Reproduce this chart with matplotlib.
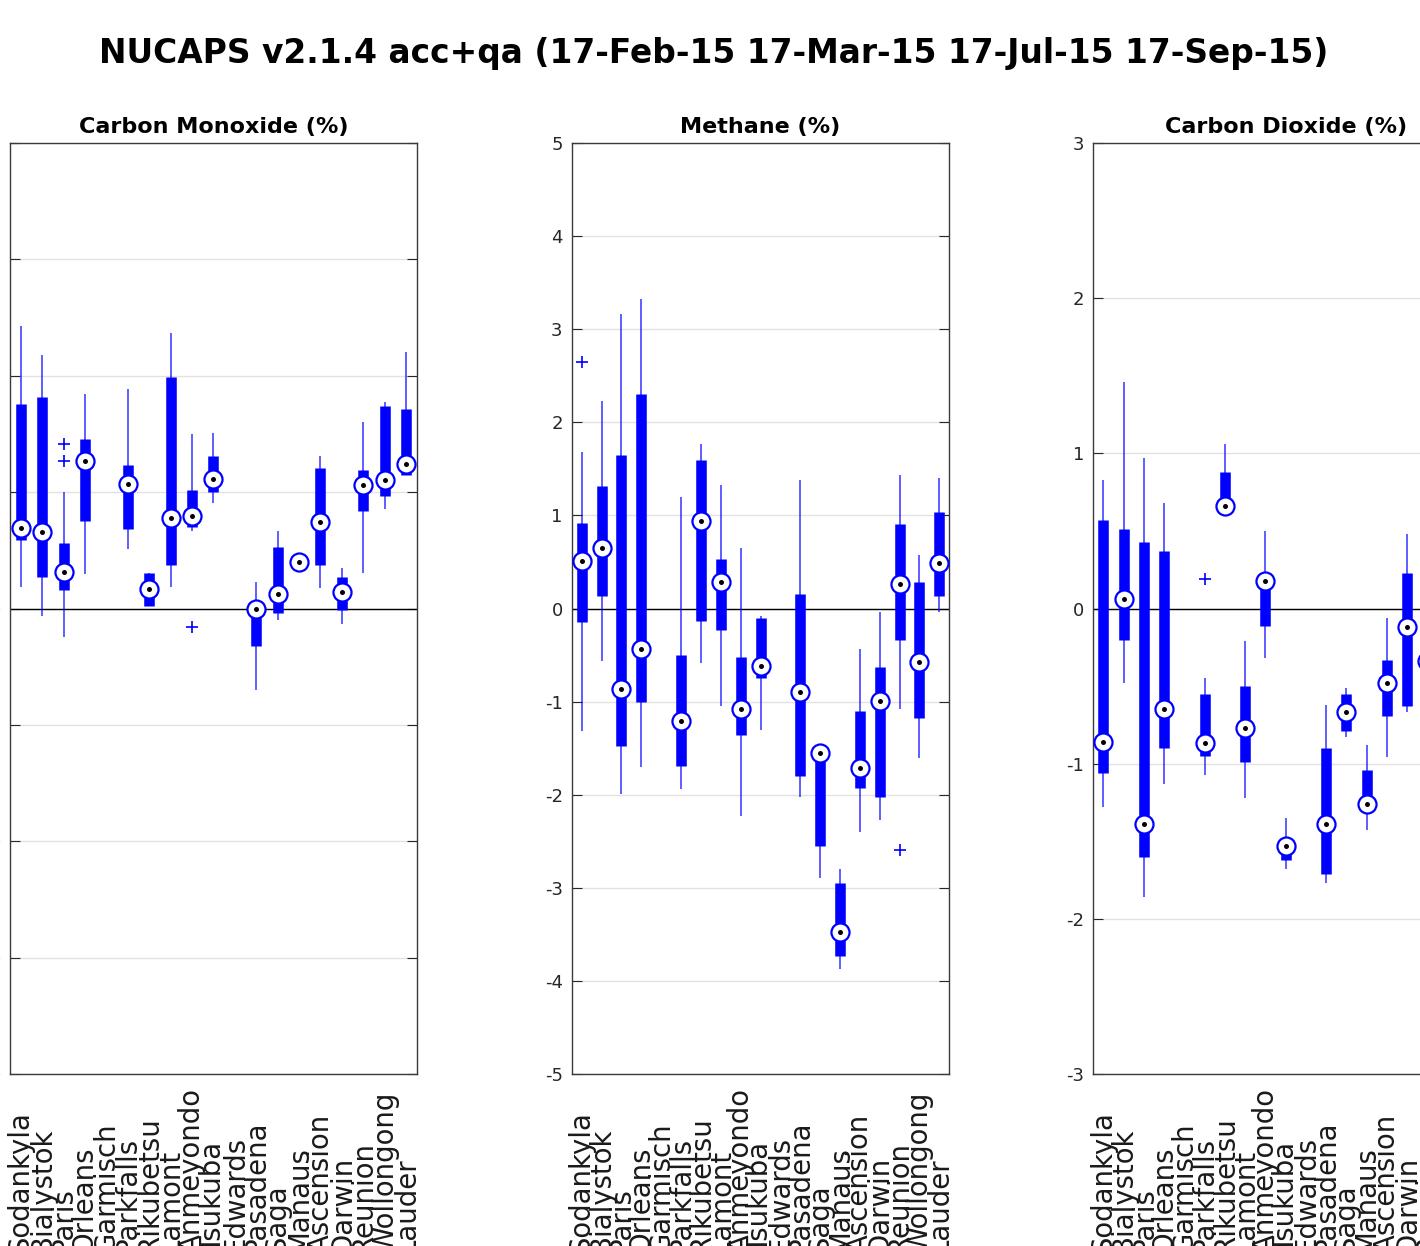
import numpy as np
import matplotlib.pyplot as plt

plt.rcParams['font.family'] = ['DejaVu Sans']
plt.rcParams['axes.unicode_minus'] = False

nan = np.nan
sites = ['Sodankyla', 'Bialystok', 'Paris', 'Orleans', 'Garmisch', 'Parkfalls',
         'Rikubetsu', 'Lamont', 'Anmeyondo', 'Tsukuba', 'Edwards', 'Pasadena',
         'Saga', 'Manaus', 'Ascension', 'Darwin', 'Reunion', 'Wollongong', 'Lauder']

# carbon monoxide (%): whisker low, 25th, median, 75th, whisker high
co_lo = [1.86, -0.66, -2.45, 2.96, nan, 5.09, 0.22, 1.86, 6.66, 9.05, nan, -6.98,
         -0.95, 3.99, 1.72, -1.29, 3.02, 8.53, 11.49]
co_q1 = [5.89, 2.72, 1.58, 7.53, nan, 6.81, 0.22, 3.73, 6.98, 10.0, nan, -3.22,
         -0.38, 3.99, 3.73, -0.15, 8.39, 9.68, 11.49]
co_med = [6.95, 6.60, 3.16, 12.70, nan, 10.69, 1.66, 7.76, 7.98, 11.15, nan, 0.0,
          1.21, 3.99, 7.47, 1.43, 10.57, 11.06, 12.41]
co_q3 = [17.59, 18.16, 5.60, 14.59, nan, 12.35, 3.07, 19.91, 10.14, 13.07, nan, 0.0,
         5.26, 3.99, 12.07, 2.67, 11.92, 17.38, 17.18]
co_hi = [24.28, 21.75, 9.97, 18.45, nan, 18.82, 3.07, 23.71, 15.0, 15.09, nan, 2.29,
         6.66, 3.99, 13.07, 3.45, 16.03, 17.72, 22.03]
co_out_site = [3, 3, 9]
co_out_val = [14.14, 12.64, -1.59]

# methane (%)
ch4_lo = [-1.32, -0.56, -1.99, -1.70, nan, -1.94, -0.59, -1.05, -2.23, -1.30, nan, -2.02,
          -2.89, -3.87, -2.40, -2.27, -1.08, -1.61, -0.04]
ch4_q1 = [-0.14, 0.13, -1.48, -1.00, nan, -1.69, -0.13, -0.23, -1.36, -0.75, nan, -1.80,
          -2.55, -3.73, -1.93, -2.02, -0.34, -1.18, 0.13]
ch4_med = [0.51, 0.65, -0.86, -0.43, nan, -1.21, 0.94, 0.29, -1.08, -0.62, nan, -0.90,
           -1.55, -3.47, -1.71, -0.99, 0.26, -0.57, 0.49]
ch4_q3 = [0.92, 1.32, 1.65, 2.30, nan, -0.50, 1.60, 0.53, -0.52, -0.10, nan, 0.16,
          -1.54, -2.95, -1.10, -0.63, 0.91, 0.28, 1.04]
ch4_hi = [1.68, 2.23, 3.16, 3.32, nan, 1.20, 1.77, 1.33, 0.65, -0.08, nan, 1.38,
          -1.54, -2.80, -0.43, -0.04, 1.43, 0.58, 1.40]
ch4_out_site = [1, 17]
ch4_out_val = [2.65, -2.59]

# carbon dioxide (%)
co2_lo = [-1.28, -0.48, -1.86, -1.13, nan, -1.07, 0.65, -1.22, -0.32, -1.68, nan, -1.77,
          -0.83, -1.43, -0.96, -0.67, nan, nan, nan]
co2_q1 = [-1.06, -0.20, -1.60, -0.90, nan, -0.95, 0.65, -0.99, -0.11, -1.62, nan, -1.71,
          -0.79, -1.26, -0.69, -0.63, nan, nan, nan]
co2_med = [-0.86, 0.06, -1.39, -0.65, nan, -0.87, 0.66, -0.77, 0.18, -1.53, nan, -1.39,
           -0.67, -1.26, -0.48, -0.12, -0.34, nan, nan]
co2_q3 = [0.57, 0.51, 0.43, 0.37, nan, -0.55, 0.88, -0.50, 0.18, -1.53, nan, -0.90,
          -0.55, -1.04, -0.33, 0.23, nan, nan, nan]
co2_hi = [0.83, 1.46, 0.97, 0.68, nan, -0.45, 1.06, -0.21, 0.50, -1.35, nan, -0.62,
          -0.51, -0.88, -0.06, 0.48, nan, nan, nan]
co2_out_site = [6]
co2_out_val = [0.19]

ink = '#262626'


def draw_panel(ax, lo, q1, med, q3, hi, out_site, out_val, lim, step, title):
    x = np.arange(1, len(sites) + 1)
    ax.vlines(x, lo, hi, color='blue', lw=1.1, alpha=0.8, zorder=3)
    ax.vlines(x, q1, q3, color='blue', lw=7.6, capstyle='butt', zorder=4)
    ax.plot(x, med, 'o', ms=13, mfc='white', mec='blue', mew=1.6, zorder=5)
    ax.plot(x, med, 'o', ms=3.6, mfc='black', mec='black', mew=0, zorder=6)
    ax.plot(out_site, out_val, '+', color='blue', ms=9, mew=1.2, zorder=5)

    ax.axhline(0, color='black', lw=1.0, zorder=2)
    ax.set_xlim(0.5, len(sites) + 0.5)
    ax.set_ylim(-lim, lim)
    ax.set_yticks(np.arange(-lim, lim + step / 2, step))
    ax.yaxis.grid(True, color='#e2e2e2', lw=1.0)
    ax.set_axisbelow(True)
    ax.tick_params(axis='y', direction='in', length=7.2, width=0.8, left=True,
                   right=True, labelsize=13, colors=ink, pad=6.5)
    ax.set_xticks(x, sites, rotation=90, ha='center', va='bottom')
    ax.tick_params(axis='x', length=0, pad=129, labelsize=19.8, labelcolor='#1a1a1a')
    for s in ax.spines.values():
        s.set_color('#3a3a3a')
        s.set_linewidth(1.0)
    ax.set_title(title, fontsize=16, fontweight='bold', pad=7.2)


fig = plt.figure(figsize=(14.2, 12.46), dpi=100)
fig.patch.set_facecolor('white')

bottom, height = 172 / 1246, 931 / 1246
ax1 = fig.add_axes([10 / 1420, bottom, 406.7 / 1420, height])
ax2 = fig.add_axes([571.7 / 1420, bottom, 377.6 / 1420, height])
ax3 = fig.add_axes([1093.3 / 1420, bottom, 384.7 / 1420, height])

draw_panel(ax1, co_lo, co_q1, co_med, co_q3, co_hi, co_out_site, co_out_val,
           40, 10, 'Carbon Monoxide (%)')
draw_panel(ax2, ch4_lo, ch4_q1, ch4_med, ch4_q3, ch4_hi, ch4_out_site, ch4_out_val,
           5, 1, 'Methane (%)')
draw_panel(ax3, co2_lo, co2_q1, co2_med, co2_q3, co2_hi, co2_out_site, co2_out_val,
           3, 1, 'Carbon Dioxide (%)')

fig.text(0.5028, 1 - 63.3 / 1246,
         'NUCAPS v2.1.4 acc+qa (17-Feb-15 17-Mar-15 17-Jul-15 17-Sep-15)',
         ha='center', va='baseline', fontsize=23.65, fontweight='bold', color='black')

fig.savefig('out.png', dpi=100, facecolor='white')
